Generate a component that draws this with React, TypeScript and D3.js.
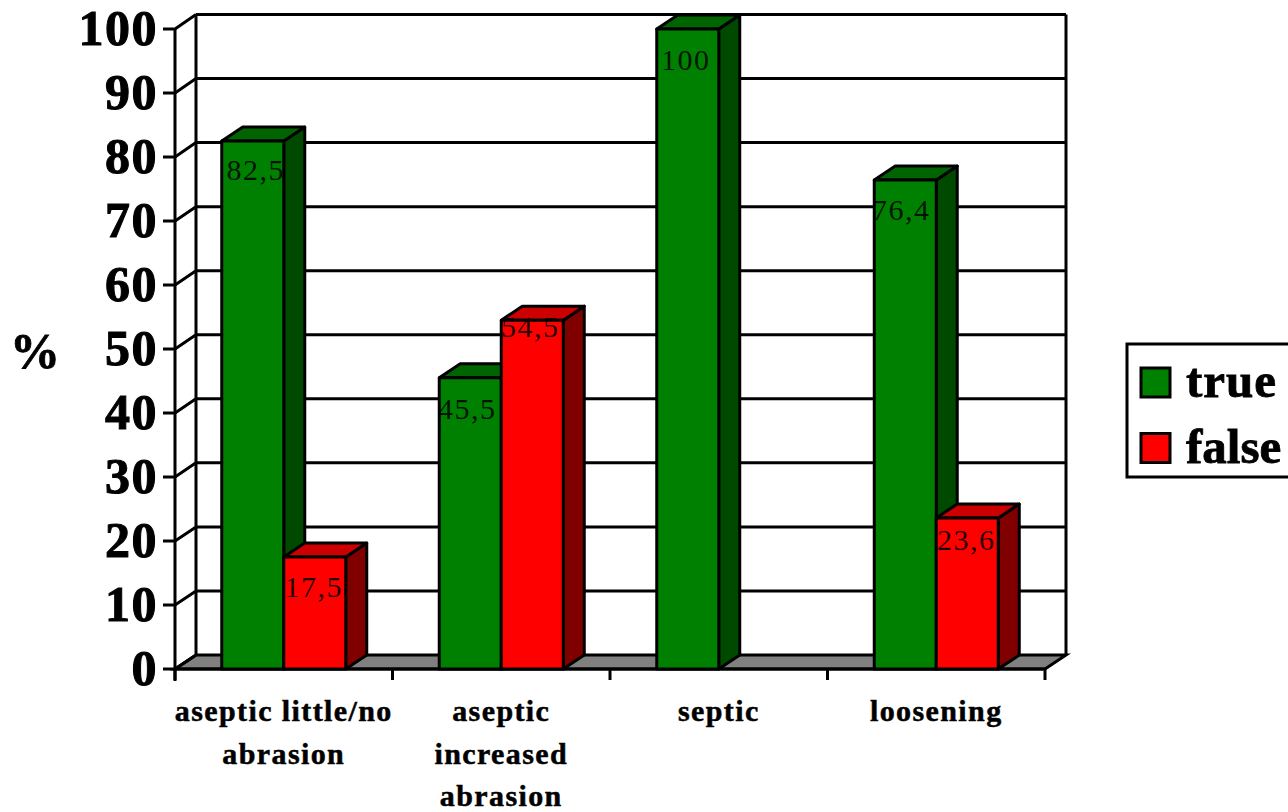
import React from "react";
import * as d3 from "d3";

const categories = [
  ["aseptic little/no", "abrasion"],
  ["aseptic", "increased", "abrasion"],
  ["septic"],
  ["loosening"],
];
const trueValues = [82.5, 45.5, 100, 76.4];
const falseValues = [17.5, 54.5, 0, 23.6];
const yTicks = [0, 10, 20, 30, 40, 50, 60, 70, 80, 90, 100];
const seriesNames = ["true", "false"];
const trueLabels = ["82,5", "45,5", "100", "76,4"];
const falseLabels = ["17,5", "54,5", "", "23,6"];
// vertical and horizontal nudges of the value labels, relative to the top of each bar
const trueLabelDy = [39, 41, 41, 40];
const falseLabelDy = [40, 17, 0, 32];
const trueLabelDx = [3, -3, -2, -4];
const falseLabelDx = [-1, -2, 0, -1];

const FONT = "'Liberation Serif', 'Times New Roman', serif";
const DX = 21;
const DY = -14;
const BAR = 62;
const SW = 3;

const y = d3.scaleLinear().domain([0, 100]).range([669, 29]);
const yBack = d3.scaleLinear().domain([0, 100]).range([655, 14.5]);
const x = d3.scaleBand<number>().domain(d3.range(categories.length)).range([175, 1045]);
const colors = {
  true: { front: "#008000", top: "#006400", side: "#004a00" },
  false: { front: "#ff0000", top: "#cc0000", side: "#800000" },
};

function Bar({ x0, v, c }: { x0: number; v: number; c: { front: string; top: string; side: string } }) {
  const yT = y(v);
  const yB = y(0);
  const x1 = x0 + BAR;
  const line = d3.line();
  return (
    <g stroke="#000" strokeWidth={SW} strokeLinejoin="round">
      <path d={line([[x1, yT], [x1 + DX, yT + DY], [x1 + DX, yB + DY], [x1, yB]]) + "Z"} fill={c.side} />
      <path d={line([[x0, yT], [x0 + DX, yT + DY], [x1 + DX, yT + DY], [x1, yT]]) + "Z"} fill={c.top} />
      <rect x={x0} y={yT} width={BAR} height={yB - yT} fill={c.front} />
    </g>
  );
}

export default function App() {
  const [x0, x1] = x.range();
  const y0 = y(0);
  const line = d3.line();
  const center = (i: number) => (x(i) as number) + x.bandwidth() / 2;
  return (
    <svg
      width={1288}
      height={812}
      style={{ position: "absolute", left: 0, top: 0, background: "#fff" }}
      fontFamily={FONT}
    >
      {/* floor */}
      <path d={line([[x0, y0], [x0 + DX, yBack(0)], [x1 + DX, yBack(0)], [x1, y0]]) + "Z"} fill="#808080" stroke="#000" strokeWidth={SW} />
      {/* walls */}
      <line x1={x0 + DX} x2={x0 + DX} y1={yBack(100)} y2={yBack(0)} stroke="#000" strokeWidth={SW} />
      <line x1={x1 + DX} x2={x1 + DX} y1={yBack(100)} y2={yBack(0)} stroke="#000" strokeWidth={SW} />
      {yTicks.map((t) => (
        <g key={t} stroke="#000" strokeWidth={SW} fill="none">
          {t > 0 && <line x1={x0 + DX} x2={x1 + DX} y1={yBack(t)} y2={yBack(t)} />}
          <path d={line([[x0 - 12, y(t)], [x0, y(t)], [x0 + DX, yBack(t)]]) as string} />
        </g>
      ))}
      <line x1={x0} x2={x0} y1={y(100)} y2={y0 + 12} stroke="#000" strokeWidth={SW} />
      <line x1={x0} x2={x1} y1={y0} y2={y0} stroke="#000" strokeWidth={SW} />
      {d3.range(categories.length + 1).map((i) => {
        const px = x0 + i * x.bandwidth();
        return <line key={i} x1={px} x2={px} y1={y0} y2={y0 + 11} stroke="#000" strokeWidth={SW} />;
      })}
      {/* bars */}
      {categories.map((_, i) => (
        <g key={i}>
          <Bar x0={center(i) - BAR} v={trueValues[i]} c={colors.true} />
          {falseValues[i] > 0 && <Bar x0={center(i)} v={falseValues[i]} c={colors.false} />}
        </g>
      ))}
      {/* value labels */}
      <g fontSize={30} letterSpacing={1.5} textAnchor="middle" fill="#000" fillOpacity={0.85}>
        {trueLabels.map((s, i) => (
          <text key={i} x={center(i) - BAR / 2 + trueLabelDx[i]} y={y(trueValues[i]) + trueLabelDy[i]}>{s}</text>
        ))}
        {falseLabels.map((s, i) =>
          s ? (
            <text key={i} x={center(i) + BAR / 2 + falseLabelDx[i]} y={y(falseValues[i]) + falseLabelDy[i]}>{s}</text>
          ) : null
        )}
      </g>
      {/* y tick labels */}
      <g fontSize={50} fontWeight="bold" textAnchor="end" letterSpacing={1.5} stroke="#000" strokeWidth={1}>
        {yTicks.map((t) => (
          <text key={t} x={158} y={y(t) + 16}>{t}</text>
        ))}
      </g>
      <text x={10} y={368} fontSize={50} fontWeight="bold" stroke="#000" strokeWidth={0.8}>%</text>
      {/* category labels */}
      <g fontSize={30} fontWeight="bold" textAnchor="middle" letterSpacing={1.4} stroke="#000" strokeWidth={0.5}>
        {categories.map((lines, i) =>
          lines.map((s, j) => (
            <text key={j} x={center(i)} y={721 + j * 42.5}>{s}</text>
          ))
        )}
      </g>
      {/* legend */}
      <rect x={1127} y={344} width={170} height={133} fill="#fff" stroke="#000" strokeWidth={SW} />
      {seriesNames.map((s, i) => (
        <g key={s}>
          <rect x={1141} y={368 + i * 65.5} width={29} height={29} fill={i === 0 ? colors.true.front : colors.false.front} stroke="#000" strokeWidth={SW} />
          <text x={1186} y={397 + i * 65.5} fontSize={49} fontWeight="bold" stroke="#000" strokeWidth={0.8} letterSpacing={i === 0 ? 1 : 0}>{s}</text>
        </g>
      ))}
    </svg>
  );
}
